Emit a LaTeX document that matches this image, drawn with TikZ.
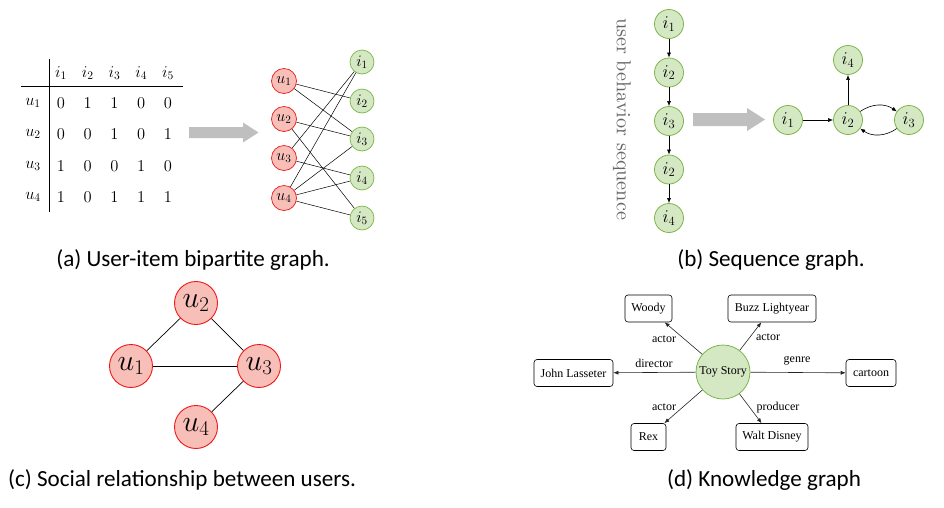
\RequirePackage{fix-cm}
\documentclass[tikz,border=0pt]{standalone}
\usepackage{fontspec}
\usepackage{graphicx}
\newfontfamily\capfont{Carlito}
\newfontfamily\kgfont{Liberation Serif}
\usetikzlibrary{arrows.meta}
\definecolor{rfill}{HTML}{F8BFB8}
\definecolor{rdraw}{HTML}{F01818}
\definecolor{gfill}{HTML}{D5E8C4}
\definecolor{gdraw}{HTML}{7CB648}
\definecolor{garrow}{HTML}{BFBFBF}
\definecolor{seqtext}{HTML}{666666}
\begin{document}
\begin{tikzpicture}[x=1pt,y=-1pt,
  unode/.style={circle,fill=rfill,draw=rdraw,line width=0.7pt,minimum size=25pt,inner sep=0pt,font=\fontsize{16}{16}\selectfont},
  inode/.style={circle,fill=gfill,draw=gdraw,line width=0.7pt,minimum size=24pt,inner sep=0pt,font=\fontsize{16}{16}\selectfont},
  snode/.style={circle,fill=gfill,draw=gdraw,line width=0.8pt,minimum size=29pt,inner sep=0pt,font=\fontsize{18}{18}\selectfont},
  cnode/.style={circle,fill=rfill,draw=rdraw,line width=0.9pt,minimum size=43pt,inner sep=0pt,font=\fontsize{30}{30}\selectfont},
  cell/.style={inner sep=0pt,font=\fontsize{16.5}{16.5}\selectfont},
  bip/.style={line width=0.5pt},
  seqarr/.style={line width=0.6pt,-{Latex[length=5pt,width=4pt]}},
  kgbox/.style={draw,rounded corners=3pt,line width=0.6pt,minimum height=27pt,inner sep=0pt,font=\kgfont\fontsize{12}{12}\selectfont},
  kgarr/.style={line width=0.6pt,draw=black!85,-{Latex[length=5pt,width=4pt]}},
  kglab/.style={inner sep=0pt,font=\kgfont\fontsize{12}{12}\selectfont},
  captxt/.style={inner sep=0pt,font=\capfont\fontsize{23.1}{23.1}\selectfont},
  fat/.style={fill=garrow}
]
\useasboundingbox (0,0) rectangle (944,507);

% ---------- (a) table ----------
\draw[line width=0.7pt] (49,59) -- (49,212);
\draw[line width=0.7pt] (21,86) -- (183,86);
\foreach \c in {1,...,5}
  \node[cell] (h\c) at ({61+26.75*(\c-1)},73) {$i_{\c}$};
\foreach \r/\y/\vals in {1/103/{0,1,1,0,0},2/134/{0,0,1,0,1},3/166/{1,0,0,1,0},4/197/{1,0,1,1,1}}{
  \node[cell] (r\r) at (33,\y) {$u_{\r}$};
  \foreach \v [count=\c] in \vals
    \node[cell] (m\r\c) at ({61+26.75*(\c-1)},\y) {$\v$};
}
% fat arrow (a)
\fill[fat] (189,127) -- (243,127) -- (243,122.5) -- (258.5,132.5) -- (243,142.5) -- (243,138) -- (189,138) -- cycle;

% bipartite
\node[unode] (u1) at (284,81) {$u_1$};
\node[unode] (u2) at (284,119) {$u_2$};
\node[unode] (u3) at (284,158) {$u_3$};
\node[unode] (u4) at (284,198) {$u_4$};
\node[inode] (i1) at (362,62) {$i_1$};
\node[inode] (i2) at (362,101) {$i_2$};
\node[inode] (i3) at (362,139) {$i_3$};
\node[inode] (i4) at (362,178) {$i_4$};
\node[inode] (i5) at (362,218) {$i_5$};
\foreach \a/\b in {u1/i2,u1/i3,u2/i3,u2/i5,u3/i1,u3/i4,u4/i1,u4/i3,u4/i4,u4/i5}
  \draw[bip] (\a) -- (\b);

% ---------- (b) sequence ----------
\node[rotate=-90,inner sep=0pt,text=seqtext] (ubs) at (622,119) {\resizebox{202pt}{!}{user behavior sequence}};
\node[snode] (s1) at (669,24) {$i_1$};
\node[snode] (s2) at (669,72.5) {$i_2$};
\node[snode] (s3) at (669,121) {$i_3$};
\node[snode] (s4) at (669,169.5) {$i_2$};
\node[snode] (s5) at (669,218) {$i_4$};
\draw[seqarr] (s1) -- (s2);
\draw[seqarr] (s2) -- (s3);
\draw[seqarr] (s3) -- (s4);
\draw[seqarr] (s4) -- (s5);
\fill[fat] (693,113) -- (747,113) -- (747,108) -- (765,119.5) -- (747,131) -- (747,126) -- (693,126) -- cycle;
\node[snode] (g1) at (788,120) {$i_1$};
\node[snode] (g2) at (848,120) {$i_2$};
\node[snode] (g3) at (909,120) {$i_3$};
\node[snode] (g4) at (848,60) {$i_4$};
\draw[seqarr] (g1) -- (g2);
\draw[seqarr] (g2) -- (g4);
\draw[seqarr] (g2) to[bend left=35] (g3);
\draw[seqarr] (g3) to[bend left=35] (g2);

% ---------- (c) social ----------
\node[cnode] (c2) at (196,303) {$u_2$};
\node[cnode] (c1) at (131,366) {$u_1$};
\node[cnode] (c3) at (259,366) {$u_3$};
\node[cnode] (c4) at (196,427) {$u_4$};
\draw[line width=0.7pt] (c1) -- (c2);
\draw[line width=0.7pt] (c2) -- (c3);
\draw[line width=0.7pt] (c1) -- (c3);
\draw[line width=0.7pt] (c3) -- (c4);

% ---------- (d) knowledge graph ----------
\node[circle,fill=gfill,draw=gdraw,line width=0.8pt,minimum size=54pt,inner sep=0pt,font=\kgfont\fontsize{12}{12}\selectfont] (ts) at (723,372) {Toy Story};
\node[kgbox,minimum width=47pt] (woody) at (648.5,308.5) {Woody};
\node[kgbox,minimum width=88pt] (buzz) at (772,308.5) {Buzz Lightyear};
\node[kgbox,minimum width=79pt] (john) at (573.5,373) {John Lasseter};
\node[kgbox,minimum width=50pt] (cartoon) at (871,373) {cartoon};
\node[kgbox,minimum width=35pt] (rex) at (648.5,437) {Rex};
\node[kgbox,minimum width=72pt] (walt) at (772,437) {Walt Disney};
\draw[kgarr] (ts) -- (woody);
\draw[kgarr] (ts) -- (buzz);
\draw[kgarr] (ts) -- (john);
\draw[kgarr] (ts) -- (cartoon);
\draw[kgarr] (ts) -- (rex);
\draw[kgarr] (ts) -- (walt);
\node[kglab] (la1) at (664,339) {actor};
\node[kglab] (la2) at (768,337) {actor};
\node[kglab] (ld) at (654,363) {director};
\node[kglab] (lg) at (797,361) {genre};
\node[kglab] (la3) at (664,407) {actor};
\node[kglab] (lp) at (778,408) {producer};

% ---------- captions ----------
\node[captxt] (capa) at (193,260) {(a) User-item bipartite graph.};
\node[captxt] (capb) at (771,260) {(b) Sequence graph.};
\node[captxt] (capc) at (182,480) {(c) Social relationship between users.};
\node[captxt] (capd) at (764,480) {(d) Knowledge graph};
\end{tikzpicture}
\end{document}
